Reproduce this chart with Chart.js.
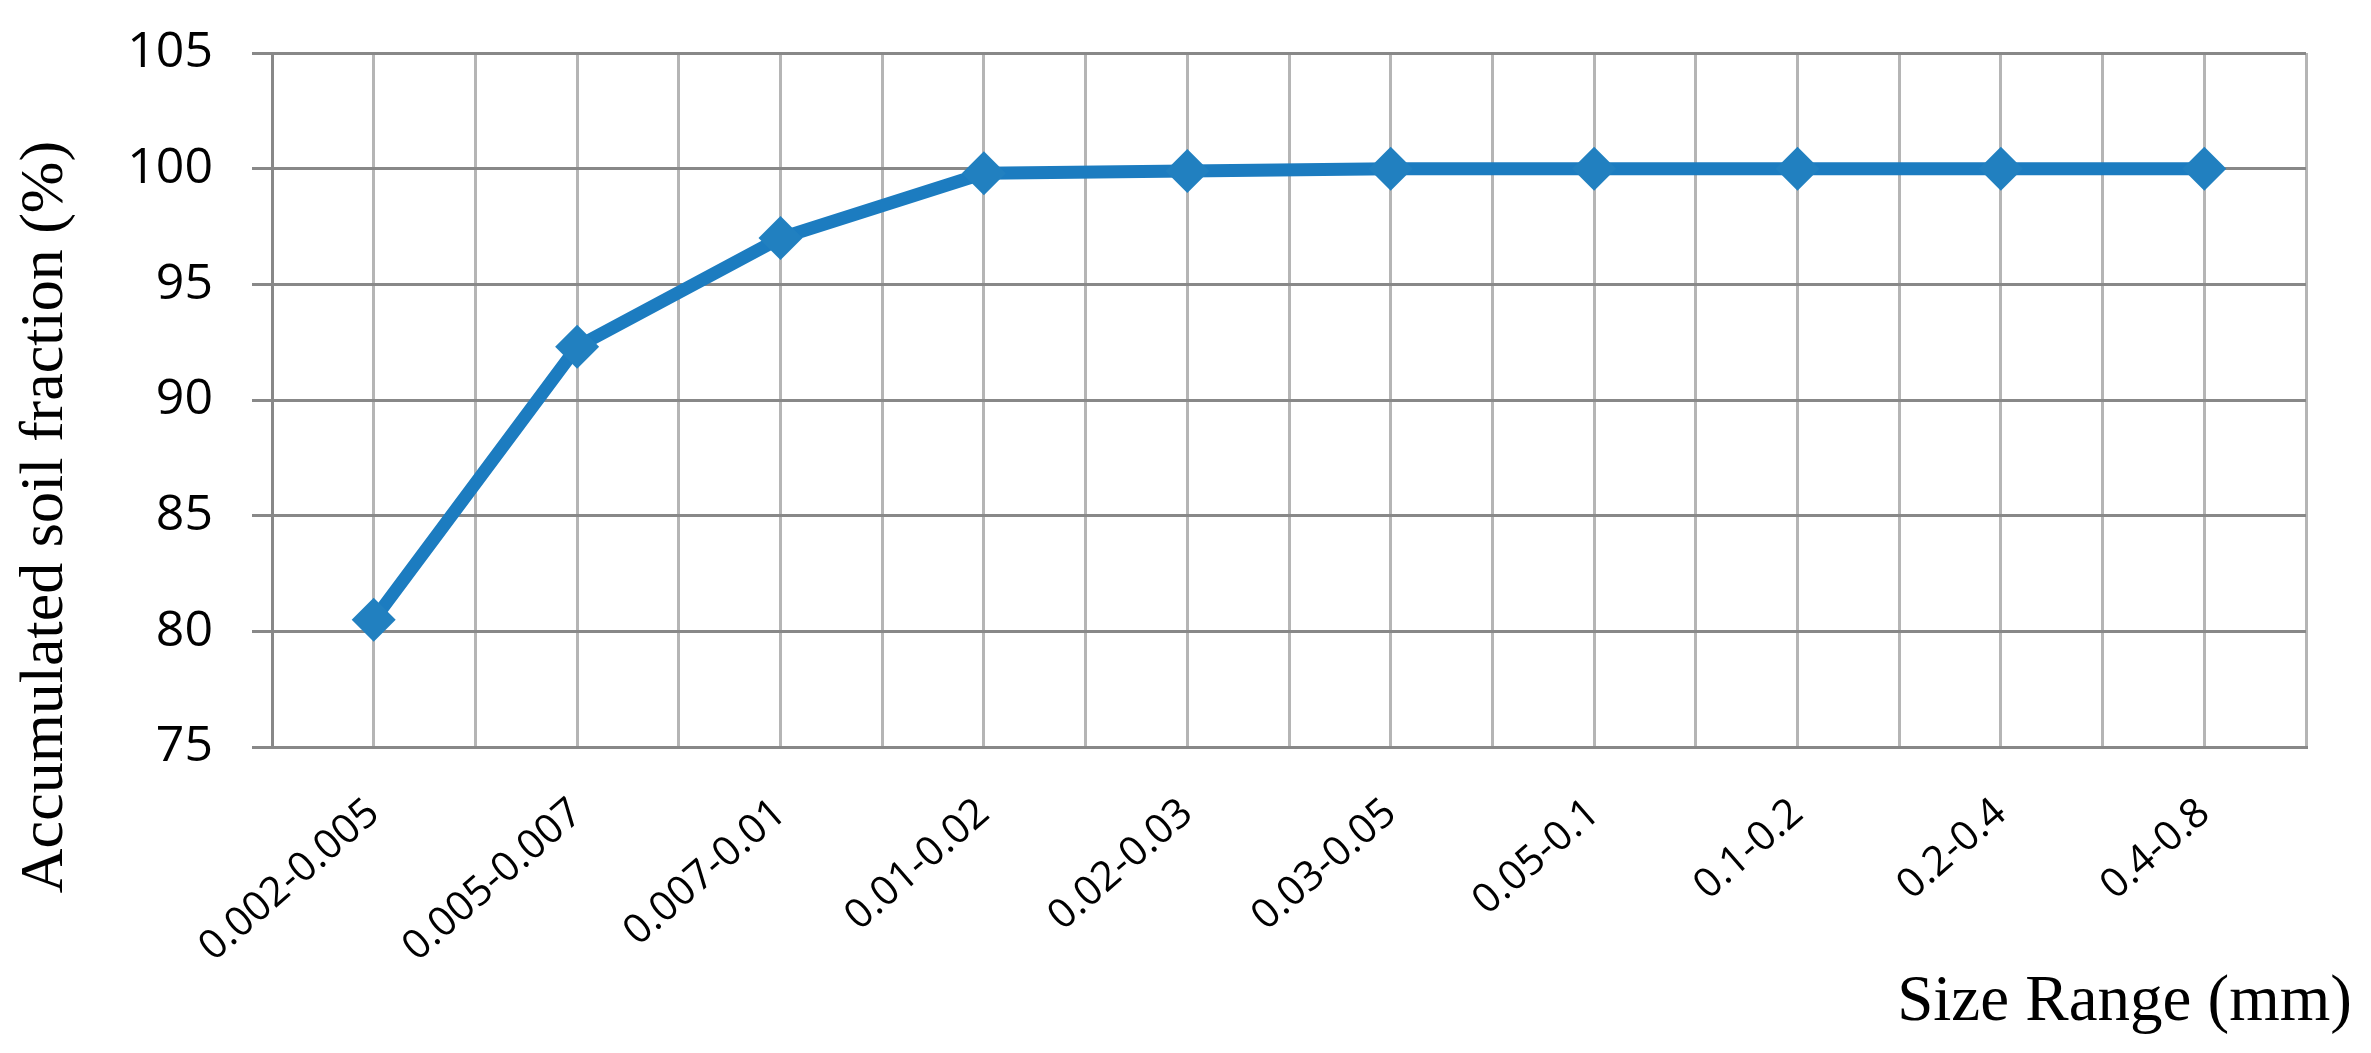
<!DOCTYPE html>
<html>
<head>
<meta charset="utf-8">
<script src="https://cdn.jsdelivr.net/npm/chart.js@4/dist/chart.umd.min.js"></script>
<style>
  html, body { margin: 0; padding: 0; background: #fff; }
  canvas { display: block; }
</style>
</head>
<body>
<canvas id="soilChart" width="2371" height="1053"></canvas>
<script>
// Size ranges (mm) and accumulated soil fraction (%)
const sizeRanges = ['0.002-0.005', '0.005-0.007', '0.007-0.01', '0.01-0.02', '0.02-0.03',
  '0.03-0.05', '0.05-0.1', '0.1-0.2', '0.2-0.4', '0.4-0.8'];
const accumulated = [80.5, 92.3, 97.0, 99.8, 99.9, 100, 100, 100, 100, 100];
const yMin = 75;
const yMax = 105;
const yStep = 5;
const yTitle = 'Accumulated soil fraction (%)';
const xTitle = 'Size Range (mm)';

// axis titles drawn by hand so they can sit where the original has them
const axisTitles = {
  id: 'axisTitles',
  afterDraw(chart) {
    const ctx = chart.ctx;
    const area = chart.chartArea;
    ctx.save();
    ctx.fillStyle = '#000';
    ctx.font = '62px "Liberation Serif"';
    ctx.textAlign = 'center';
    ctx.textBaseline = 'middle';
    ctx.translate(area.left - 226, area.bottom - 230);
    ctx.rotate(-Math.PI / 2);
    ctx.fillText(yTitle, 0, 0);
    ctx.restore();

    ctx.save();
    ctx.fillStyle = '#000';
    ctx.font = '65px "Liberation Serif"';
    ctx.textAlign = 'right';
    ctx.textBaseline = 'alphabetic';
    ctx.fillText(xTitle, area.right + 46, area.bottom + 273);
    ctx.restore();
  }
};

const ctx = document.getElementById('soilChart').getContext('2d');
new Chart(ctx, {
  type: 'line',
  data: {
    labels: sizeRanges,
    datasets: [{
      data: accumulated,
      borderColor: '#1c7cc0',
      backgroundColor: '#2180c0',
      borderWidth: 13,
      pointStyle: 'rectRot',
      pointRadius: 22,
      pointBorderWidth: 0,
      pointBackgroundColor: '#2180c0',
      tension: 0,
      fill: false
    }]
  },
  options: {
    responsive: false,
    animation: false,
    devicePixelRatio: 1,
    layout: { padding: { top: 53, right: 65, left: 0, bottom: 0 } },
    plugins: {
      legend: { display: false },
      tooltip: { enabled: false }
    },
    scales: {
      x: {
        type: 'category',
        offset: true,
        grid: { offset: true, color: '#b5b5b5', lineWidth: 3, drawTicks: false },
        border: { display: true, color: '#888', width: 3 },
        ticks: {
          font: { family: '"Open Sans"', size: 41 },
          color: '#000',
          minRotation: 41,
          maxRotation: 41,
          padding: 42,
          autoSkip: false
        },
        afterFit(scale) {
          scale.height = 306;
          scale.paddingLeft = 0;
          scale.paddingRight = 0;
        }
      },
      x2: {
        type: 'category',
        offset: true,
        position: 'bottom',
        grid: { offset: false, color: '#b5b5b5', lineWidth: 3, drawTicks: false },
        border: { display: false },
        ticks: { display: false },
        afterFit(scale) { scale.height = 0; }
      },
      y: {
        min: yMin,
        max: yMax,
        ticks: {
          stepSize: yStep,
          font: { family: '"Open Sans"', size: 50 },
          color: '#000',
          padding: 39
        },
        grid: { color: '#888', lineWidth: 3, drawTicks: true, tickLength: 20 },
        border: { display: true, color: '#888', width: 3 },
        afterFit(scale) {
          scale.width = 272;
          scale.paddingTop = 0;
          scale.paddingBottom = 0;
        }
      }
    }
  },
  plugins: [axisTitles]
});
</script>
</body>
</html>
